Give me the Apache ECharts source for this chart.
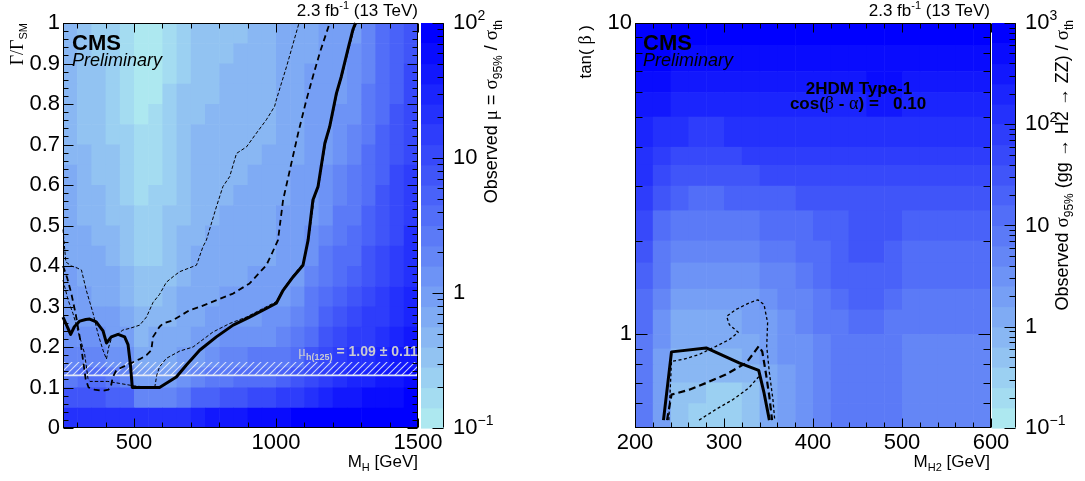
<!DOCTYPE html>
<html>
<head>
<meta charset="utf-8">
<title>Heavy scalar search limits</title>
<script src="https://cdn.jsdelivr.net/npm/echarts@6.0.0/dist/echarts.min.js"></script>
<style>
  html, body { margin: 0; padding: 0; background: #ffffff; }
  #chart { width: 1085px; height: 481px; }
</style>
</head>
<body>
<div id="chart"></div>
<script>
// ===================== Left panel: width scan =====================
// bin edges of the (M_H, Gamma/Gamma_SM) map
const widthMassEdges = [250, 300, 350, 400, 450, 500, 550, 600, 650, 700, 750, 800, 850,
  900, 950, 1000, 1050, 1100, 1150, 1200, 1250, 1300, 1350, 1400, 1450, 1500];
const widthGammaEdges = [0, 0.05, 0.1, 0.15, 0.2, 0.25, 0.3, 0.35, 0.4, 0.45, 0.5,
  0.55, 0.6, 0.65, 0.7, 0.75, 0.8, 0.85, 0.9, 0.95, 1.0];
// log10(observed mu), rows from the top bin (0.95-1.00) down to the bottom bin (0-0.05)
const widthMuLog = [
  [-0.35,-0.55,-0.60,-0.70,-0.85,-0.97,-0.95,-0.75,-0.60,-0.48,-0.45,-0.42,-0.40,-0.38,-0.35,-0.25,-0.20,-0.12,-0.08,-0.03,0.03,0.25,0.50,0.70,0.90],
  [-0.34,-0.53,-0.58,-0.67,-0.82,-0.95,-0.93,-0.73,-0.58,-0.46,-0.43,-0.40,-0.38,-0.36,-0.33,-0.24,-0.19,-0.11,-0.07,-0.02,0.07,0.29,0.53,0.73,0.92],
  [-0.32,-0.50,-0.55,-0.65,-0.79,-0.93,-0.90,-0.71,-0.57,-0.45,-0.42,-0.39,-0.37,-0.35,-0.32,-0.22,-0.18,-0.10,-0.06,-0.01,0.11,0.33,0.56,0.76,0.95],
  [-0.31,-0.48,-0.53,-0.62,-0.76,-0.90,-0.87,-0.69,-0.55,-0.43,-0.40,-0.37,-0.35,-0.33,-0.30,-0.21,-0.16,-0.09,-0.04,0.02,0.16,0.37,0.60,0.79,0.98],
  [-0.29,-0.45,-0.50,-0.59,-0.73,-0.87,-0.84,-0.67,-0.53,-0.41,-0.38,-0.35,-0.33,-0.31,-0.28,-0.20,-0.15,-0.07,-0.03,0.07,0.20,0.41,0.64,0.83,1.01],
  [-0.27,-0.42,-0.47,-0.56,-0.69,-0.84,-0.81,-0.65,-0.51,-0.39,-0.36,-0.33,-0.31,-0.29,-0.26,-0.18,-0.14,-0.06,-0.01,0.12,0.25,0.46,0.68,0.87,1.04],
  [-0.26,-0.39,-0.43,-0.53,-0.65,-0.80,-0.78,-0.62,-0.48,-0.37,-0.34,-0.31,-0.29,-0.27,-0.24,-0.16,-0.12,-0.05,0.01,0.17,0.30,0.51,0.72,0.91,1.08],
  [-0.24,-0.36,-0.40,-0.49,-0.61,-0.77,-0.74,-0.59,-0.46,-0.35,-0.32,-0.29,-0.27,-0.24,-0.22,-0.14,-0.10,-0.03,0.06,0.23,0.36,0.56,0.77,0.95,1.12],
  [-0.21,-0.33,-0.36,-0.45,-0.57,-0.73,-0.70,-0.56,-0.43,-0.33,-0.29,-0.26,-0.24,-0.22,-0.20,-0.13,-0.09,-0.02,0.12,0.29,0.42,0.62,0.82,0.99,1.16],
  [-0.19,-0.29,-0.32,-0.41,-0.52,-0.69,-0.66,-0.53,-0.41,-0.30,-0.26,-0.23,-0.21,-0.19,-0.17,-0.10,-0.07,0.01,0.19,0.36,0.49,0.68,0.87,1.04,1.20],
  [-0.17,-0.24,-0.28,-0.36,-0.46,-0.64,-0.61,-0.50,-0.37,-0.27,-0.23,-0.20,-0.18,-0.16,-0.14,-0.08,-0.05,0.08,0.27,0.43,0.56,0.75,0.93,1.09,1.25],
  [-0.14,-0.20,-0.23,-0.31,-0.40,-0.59,-0.56,-0.46,-0.34,-0.24,-0.20,-0.17,-0.15,-0.13,-0.11,-0.05,-0.02,0.16,0.35,0.51,0.64,0.82,0.99,1.15,1.30],
  [-0.10,-0.14,-0.17,-0.25,-0.34,-0.53,-0.50,-0.41,-0.30,-0.20,-0.16,-0.13,-0.11,-0.09,-0.07,-0.02,0.02,0.26,0.44,0.60,0.73,0.90,1.06,1.21,1.36],
  [-0.07,-0.08,-0.11,-0.18,-0.26,-0.45,-0.42,-0.36,-0.25,-0.16,-0.12,-0.09,-0.07,-0.05,-0.03,0.03,0.12,0.36,0.55,0.71,0.84,1.00,1.14,1.28,1.42],
  [-0.02,-0.01,-0.03,-0.10,-0.17,-0.37,-0.34,-0.31,-0.20,-0.11,-0.07,-0.04,-0.02,0.01,0.05,0.16,0.25,0.48,0.67,0.83,0.96,1.10,1.23,1.36,1.49],
  [0.07,0.12,0.09,-0.01,-0.06,-0.27,-0.25,-0.24,-0.14,-0.06,-0.01,0.05,0.11,0.16,0.20,0.30,0.40,0.63,0.82,0.98,1.10,1.22,1.33,1.45,1.57],
  [0.25,0.30,0.26,0.16,0.09,-0.17,-0.16,-0.15,-0.06,0.04,0.17,0.23,0.29,0.35,0.39,0.49,0.58,0.82,1.00,1.15,1.25,1.35,1.44,1.55,1.65],
  [0.48,0.53,0.50,0.39,0.33,-0.06,-0.06,-0.03,0.11,0.29,0.42,0.48,0.54,0.60,0.63,0.74,0.83,1.07,1.20,1.35,1.45,1.52,1.58,1.67,1.75],
  [0.84,0.88,0.85,0.75,0.68,0.25,0.25,0.33,0.49,0.67,0.79,0.86,0.92,0.97,1.01,1.12,1.20,1.40,1.50,1.60,1.65,1.70,1.75,1.80,1.87],
  [1.30,1.30,1.30,1.30,1.35,1.25,1.30,1.35,1.40,1.50,1.55,1.60,1.65,1.70,1.75,1.80,1.85,1.90,1.95,1.95,1.95,1.97,1.98,1.99,2.00]
];
// exclusion contours, [M_H, Gamma/Gamma_SM]
const widthObserved = [[250,0.274],[277,0.231],[290,0.25],[309,0.264],[330,0.268],[344,0.269],[367,0.262],
  [391,0.24],[403,0.21],[420,0.225],[444,0.231],[467,0.225],[479,0.206],[487,0.159],[494,0.1],[590,0.1],
  [649,0.126],[684,0.155],[731,0.192],[790,0.225],[849,0.254],[907,0.274],[966,0.295],[1001,0.308],
  [1025,0.34],[1060,0.373],[1095,0.402],[1113,0.464],[1130,0.563],[1148,0.596],[1172,0.703],[1189,0.744],
  [1213,0.827],[1230,0.868],[1253,0.934],[1271,0.984],[1280,1.0]];
const widthExpected = [[250,0.40],[265,0.37],[280,0.33],[295,0.28],[310,0.22],[322,0.16],[330,0.12],
  [340,0.10],[360,0.095],[390,0.092],[410,0.095],[418,0.10],[425,0.125],[438,0.143],[473,0.155],
  [520,0.17],[544,0.18],[561,0.192],[567,0.225],[590,0.25],[602,0.258],[637,0.266],[696,0.291],
  [731,0.299],[849,0.332],[907,0.357],[966,0.402],[985,0.43],[1007,0.464],[1025,0.563],[1078,0.728],
  [1107,0.81],[1130,0.868],[1154,0.926],[1189,1.0]];
const widthExpectedUp = [[250,0.49],[255,0.45],[260,0.41],[280,0.40],[300,0.395],[315,0.39],[332,0.34],
  [356,0.283],[373,0.233],[391,0.192],[403,0.17],[411,0.2],[420,0.22],[432,0.229],[444,0.233],
  [461,0.242],[485,0.246],[520,0.254],[544,0.274],[567,0.31],[590,0.33],[614,0.36],[640,0.375],
  [661,0.386],[720,0.402],[743,0.448],[755,0.464],[790,0.546],[813,0.596],[837,0.621],[861,0.678],
  [896,0.694],[931,0.728],[966,0.761],[995,0.794],[1001,0.81],[1037,0.892],[1081,1.0]];
const widthExpectedDown = [[250,0.365],[268,0.316],[285,0.283],[309,0.225],[326,0.184],[338,0.122],
  [345,0.115],[375,0.115],[408,0.115],[450,0.11],[500,0.104],[560,0.1],[573,0.1],[580,0.13],[590,0.151],
  [614,0.172],[661,0.19],[708,0.2],[778,0.237],[837,0.258],[896,0.274],[943,0.291],[1001,0.312],
  [1027,0.345],[1062,0.378],[1097,0.408],[1116,0.47],[1134,0.565],[1151,0.60],[1175,0.705],[1192,0.746],
  [1216,0.83],[1233,0.87],[1256,0.935],[1275,0.985],[1284,1.0]];
// h(125) signal strength band, in Gamma/Gamma_SM
const higgsBand = [0.13, 0.163];
const widthXTicks = [500, 1000, 1500];
const widthYTicks = [0, 0.1, 0.2, 0.3, 0.4, 0.5, 0.6, 0.7, 0.8, 0.9, 1];
const widthZTicks = [0.1, 1, 10, 100];

// ===================== Right panel: 2HDM scan =====================
const h2MassEdges = [200, 220, 240, 260, 280, 300, 320, 340, 360, 380, 400,
  420, 440, 460, 480, 500, 520, 540, 560, 580, 600];
const h2TanbEdges = [0.5, 0.6, 0.7, 0.8, 0.9, 1.0, 1.2, 1.4, 1.7, 2.0, 2.5,
  3.0, 3.5, 4.0, 5.0, 6.0, 7.0, 8.5, 10];
// log10(observed sigma95 / sigma_th), rows from tan(beta) 8.5-10 down to 0.5-0.6
const h2SigmaLog = [
  [2.95,2.90,2.85,2.80,2.80,2.80,2.80,2.80,2.80,2.80,2.80,2.80,2.80,2.85,2.85,2.80,2.80,2.80,2.80,2.80],
  [2.85,2.80,2.70,2.65,2.65,2.70,2.70,2.70,2.70,2.70,2.70,2.70,2.70,2.75,2.75,2.70,2.70,2.70,2.70,2.70],
  [2.70,2.60,2.50,2.45,2.45,2.50,2.50,2.50,2.55,2.55,2.55,2.55,2.55,2.60,2.60,2.55,2.55,2.55,2.55,2.55],
  [2.55,2.40,2.30,2.25,2.25,2.30,2.30,2.30,2.35,2.35,2.35,2.35,2.35,2.40,2.40,2.35,2.35,2.35,2.35,2.35],
  [2.35,2.15,2.00,1.95,1.95,2.00,2.05,2.05,2.05,2.10,2.10,2.10,2.10,2.15,2.15,2.10,2.10,2.10,2.10,2.10],
  [2.15,1.90,1.75,1.70,1.70,1.75,1.80,1.80,1.85,1.85,1.85,1.90,1.90,1.95,1.95,1.90,1.90,1.90,1.90,1.90],
  [2.00,1.70,1.50,1.45,1.45,1.50,1.55,1.60,1.60,1.65,1.65,1.70,1.75,1.75,1.75,1.70,1.70,1.70,1.70,1.70],
  [1.80,1.40,1.20,1.15,1.15,1.20,1.25,1.30,1.35,1.40,1.45,1.50,1.55,1.55,1.55,1.50,1.45,1.45,1.45,1.45],
  [1.60,1.15,0.90,0.85,0.85,0.90,0.95,1.00,1.05,1.15,1.25,1.35,1.45,1.45,1.40,1.30,1.25,1.25,1.25,1.25],
  [1.45,0.95,0.65,0.60,0.60,0.65,0.70,0.80,0.90,1.00,1.15,1.30,1.40,1.40,1.30,1.15,1.10,1.10,1.10,1.10],
  [1.30,0.80,0.45,0.40,0.40,0.45,0.55,0.65,0.75,0.90,1.05,1.25,1.35,1.35,1.20,1.05,1.00,1.00,1.00,1.00],
  [1.15,0.60,0.20,0.20,0.25,0.30,0.35,0.45,0.60,0.75,0.90,1.10,1.25,1.30,1.10,0.95,0.90,0.90,0.90,0.90],
  [1.00,0.50,0.10,0.10,0.10,0.15,0.20,0.30,0.45,0.60,0.80,0.95,1.05,1.10,0.95,0.85,0.82,0.82,0.82,0.82],
  [0.95,0.40,0.05,0.05,0.05,0.10,0.15,0.25,0.40,0.55,0.75,0.85,0.90,0.90,0.85,0.78,0.78,0.78,0.78,0.78],
  [0.90,0.35,-0.05,-0.06,-0.05,-0.03,0.08,0.20,0.40,0.55,0.75,0.80,0.85,0.85,0.80,0.75,0.75,0.75,0.75,0.75],
  [0.90,0.35,-0.15,-0.15,-0.12,-0.10,-0.05,0.10,0.35,0.50,0.75,0.80,0.85,0.85,0.80,0.75,0.75,0.75,0.75,0.75],
  [0.90,0.35,-0.25,-0.40,-0.45,-0.42,-0.30,0.05,0.35,0.50,0.75,0.80,0.85,0.85,0.80,0.75,0.75,0.75,0.75,0.75],
  [0.90,0.35,-0.30,-0.45,-0.50,-0.48,-0.40,0.05,0.35,0.50,0.75,0.80,0.85,0.85,0.80,0.75,0.75,0.75,0.75,0.75]
];
// exclusion contours, [M_H2, tan(beta)]
const h2Observed = [[232,0.53],[241,0.878],[280,0.904],[317,0.809],[339,0.766],[345,0.648],[351,0.53]];
const h2Expected = [[236,0.53],[241,0.64],[261,0.664],[280,0.698],[302,0.743],[325,0.809],[339,0.915],
  [343,0.88],[347,0.752],[351,0.63],[354,0.53]];
const h2ExpectedUp = [[238,0.53],[241,0.819],[254,0.83],[272,0.861],[291,0.915],[306,0.962],[316,1.015],
  [306,1.074],[303,1.142],[313,1.2],[328,1.26],[338,1.29],[345,1.245],[349,1.09],[348,0.915],
  [351,0.752],[355,0.617],[357,0.53]];
const h2ExpectedDown = [[272,0.53],[291,0.574],[310,0.617],[328,0.673],[338,0.725],[341,0.74]];
const h2XTicks = [200, 300, 400, 500, 600];
const h2YTicks = [1, 10];
const h2ZTicks = [0.1, 1, 10, 100, 1000];

// ===================== drawing =====================
const FONT = '"Liberation Sans", Arial, Helvetica, sans-serif';
const SERIF = '"Liberation Serif", "DejaVu Serif", serif';
const N_LEVELS = 20;
const PAL_LOW = [173, 232, 240];
const PAL_HIGH = [0, 0, 255];

function levelColor(level) {
  const t = level / (N_LEVELS - 1);
  const c = PAL_LOW.map((a, i) => Math.round(a + (PAL_HIGH[i] - a) * t));
  return 'rgb(' + c.join(',') + ')';
}
function levelOf(v, lo, hi) {
  if (v < lo) return -1;
  return Math.min(N_LEVELS - 1, Math.floor((v - lo) / (hi - lo) * N_LEVELS));
}
function buildCells(xEdges, yEdges, rowsTopDown) {
  const out = [];
  const nRows = yEdges.length - 1;
  rowsTopDown.forEach((row, r) => {
    const j = nRows - 1 - r;
    row.forEach((v, i) => out.push([xEdges[i], xEdges[i + 1], yEdges[j], yEdges[j + 1], v]));
  });
  return out;
}
function cellRenderer(lo, hi) {
  return function (params, api) {
    const lvl = levelOf(api.value(4), lo, hi);
    if (lvl < 0) return null;
    const a = api.coord([api.value(0), api.value(3)]);
    const b = api.coord([api.value(1), api.value(2)]);
    return {
      type: 'rect',
      shape: { x: a[0], y: a[1], width: b[0] - a[0] + 0.6, height: b[1] - a[1] + 0.6 },
      style: { fill: levelColor(lvl) }
    };
  };
}
function colorbarCells(lo, hi) {
  const out = [];
  for (let i = 0; i < N_LEVELS; i++) {
    out.push([0, 1, Math.pow(10, lo + (hi - lo) * i / N_LEVELS), Math.pow(10, lo + (hi - lo) * (i + 1) / N_LEVELS), i]);
  }
  return out;
}
function colorbarRenderer(params, api) {
  const a = api.coord([api.value(0), api.value(3)]);
  const b = api.coord([api.value(1), api.value(2)]);
  return {
    type: 'rect',
    shape: { x: a[0], y: a[1], width: b[0] - a[0], height: b[1] - a[1] + 0.6 },
    style: { fill: levelColor(api.value(4)) }
  };
}
function minorLinear(from, to, step, majors) {
  const out = [];
  for (let v = from; v <= to + 1e-9; v += step) {
    const r = Math.round(v * 1000) / 1000;
    if (!majors.some(m => Math.abs(m - r) < 1e-6)) out.push(r);
  }
  return out;
}
function minorLog(lo, hi) {
  const out = [];
  for (let d = Math.floor(Math.log10(lo)); d < Math.ceil(Math.log10(hi)); d++) {
    for (let m = 2; m <= 9; m++) {
      const v = m * Math.pow(10, d);
      if (v > lo && v < hi) out.push(v);
    }
  }
  return out;
}
function withLen(values, len) { return values.map(v => [v, len]); }

const hatchCanvas = (function () {
  const c = document.createElement('canvas');
  c.width = 7; c.height = 7;
  const g = c.getContext('2d');
  g.strokeStyle = 'rgba(236,240,250,0.85)';
  g.lineWidth = 1.1;
  g.beginPath();
  g.moveTo(-1, 8); g.lineTo(8, -1);
  g.moveTo(-1, 1); g.lineTo(1, -1);
  g.moveTo(6, 8); g.lineTo(8, 6);
  g.stroke();
  return c;
})();

function labelAxis(grid, position, type, min, max, label) {
  const ax = {
    type: type, gridIndex: grid, position: position, min: min, max: max, z: 10,
    axisLine: { show: false, onZero: false },
    axisTick: { show: false },
    splitLine: { show: false },
    minorTick: { show: false },
    minorSplitLine: { show: false },
    axisLabel: { show: false }
  };
  if (type === 'log') ax.logBase = 10;
  if (label) {
    ax.axisLabel = Object.assign({ show: true, color: '#000', fontFamily: FONT, fontSize: 22 }, label);
  }
  return ax;
}
const expRich = {
  m: { fontFamily: FONT, fontSize: 22, color: '#000', verticalAlign: 'middle' },
  p: { fontFamily: FONT, fontSize: 14, color: '#000', verticalAlign: 'middle', padding: [0, 0, 13, 0] }
};
function powerLabel(v) {
  const e = Math.round(Math.log10(v));
  if (e === 0) return '{m|1}';
  if (e === 1) return '{m|10}';
  return '{m|10}{p|' + (e < 0 ? '\u2212' + (-e) : e) + '}';
}

function rich(size) {
  const sub = Math.round(size * 0.66);
  return {
    m: { fontFamily: FONT, fontSize: size, fill: '#000', verticalAlign: 'middle' },
    g: { fontFamily: SERIF, fontSize: size + 1, fill: '#000', verticalAlign: 'middle' },
    s: { fontFamily: FONT, fontSize: sub, fill: '#000', verticalAlign: 'middle', padding: [Math.round(size * 0.7), 0, 0, 0] },
    p: { fontFamily: FONT, fontSize: sub, fill: '#000', verticalAlign: 'middle', padding: [0, 0, Math.round(size * 0.6), 0] }
  };
}
function txt(x, y, text, size, opt) {
  opt = opt || {};
  return {
    type: 'text', x: x, y: y, rotation: opt.rotation || 0, z: 100, silent: true,
    style: {
      text: text, fill: opt.fill || '#000', fontFamily: FONT, fontSize: size,
      fontWeight: opt.weight || 'normal', fontStyle: opt.italic ? 'italic' : 'normal',
      align: opt.align || 'left', verticalAlign: 'middle', rich: opt.rich
    }
  };
}

const gridL = { left: 63, top: 23, width: 355, height: 405 };
const gridLCB = { left: 421, top: 23, width: 23, height: 405 };
const gridR = { left: 635, top: 23, width: 356, height: 405 };
const gridRCB = { left: 992, top: 23, width: 24, height: 405 };

const xAxes = [
  labelAxis(0, 'bottom', 'value', 250, 1500, { customValues: widthXTicks, margin: 4, formatter: v => String(v) }),
  labelAxis(1, 'bottom', 'value', 0, 1),
  labelAxis(2, 'bottom', 'value', 200, 600, { customValues: h2XTicks, margin: 4, formatter: v => String(v) }),
  labelAxis(3, 'bottom', 'value', 0, 1)
];
const yAxes = [
  labelAxis(0, 'left', 'value', 0, 1, { customValues: widthYTicks, margin: 3, formatter: v => String(Math.round(v * 10) / 10) }),
  labelAxis(1, 'right', 'log', 0.1, 100, { customValues: widthZTicks, margin: 9, formatter: powerLabel, rich: expRich }),
  labelAxis(2, 'left', 'log', 0.5, 10, { customValues: h2YTicks, margin: 3, formatter: v => String(Math.round(v)) }),
  labelAxis(3, 'right', 'log', 0.1, 1000, { customValues: h2ZTicks, margin: 9, formatter: powerLabel, rich: expRich })
];

function contour(name, data, xi, yi, width, dash) {
  return {
    type: 'line', name: name, data: data, xAxisIndex: xi, yAxisIndex: yi,
    showSymbol: false, symbol: 'none', silent: true, z: 6, clip: true,
    lineStyle: { color: '#000', width: width, type: dash || 'solid', cap: 'butt', join: 'round' }
  };
}

const series = [
  {
    type: 'custom', name: 'mu map', xAxisIndex: 0, yAxisIndex: 0, z: 1, silent: true, clip: true,
    encode: { x: [0, 1], y: [2, 3] },
    data: buildCells(widthMassEdges, widthGammaEdges, widthMuLog),
    renderItem: cellRenderer(-1, 2)
  },
  {
    type: 'custom', name: 'h125 band', xAxisIndex: 0, yAxisIndex: 0, z: 4, silent: true, clip: true,
    encode: { x: [0, 1], y: [2, 3] },
    data: [[250, 1500, higgsBand[0], higgsBand[1]]],
    renderItem: function (params, api) {
      const a = api.coord([api.value(0), api.value(3)]);
      const b = api.coord([api.value(1), api.value(2)]);
      return {
        type: 'group', children: [
          { type: 'rect', shape: { x: a[0], y: a[1], width: b[0] - a[0], height: b[1] - a[1] },
            style: { fill: { image: hatchCanvas, repeat: 'repeat' } } },
          { type: 'line', shape: { x1: a[0], y1: b[1], x2: b[0], y2: b[1] },
            style: { stroke: 'rgba(232,236,246,0.95)', lineWidth: 1.6 } }
        ]
      };
    }
  },
  contour('obs', widthObserved, 0, 0, 3),
  contour('exp', widthExpected, 0, 0, 1.8, [6, 4]),
  contour('exp up', widthExpectedUp, 0, 0, 1, [3.5, 2]),
  contour('exp down', widthExpectedDown, 0, 0, 1, [3.5, 2]),
  {
    type: 'custom', name: 'mu scale', xAxisIndex: 1, yAxisIndex: 1, z: 1, silent: true,
    encode: { x: [0, 1], y: [2, 3] },
    data: colorbarCells(-1, 2), renderItem: colorbarRenderer
  },
  {
    type: 'custom', name: 'sigma map', xAxisIndex: 2, yAxisIndex: 2, z: 1, silent: true, clip: true,
    encode: { x: [0, 1], y: [2, 3] },
    data: buildCells(h2MassEdges, h2TanbEdges, h2SigmaLog),
    renderItem: cellRenderer(-1, 3)
  },
  contour('obs', h2Observed, 2, 2, 3),
  contour('exp', h2Expected, 2, 2, 2.2, [7, 4]),
  contour('exp up', h2ExpectedUp, 2, 2, 1.3, [3, 2.5]),
  contour('exp down', h2ExpectedDown, 2, 2, 1.3, [3, 2.5]),
  {
    type: 'custom', name: 'sigma scale', xAxisIndex: 3, yAxisIndex: 3, z: 1, silent: true,
    encode: { x: [0, 1], y: [2, 3] },
    data: colorbarCells(-1, 3), renderItem: colorbarRenderer
  }
];

const r17 = rich(17), r18 = rich(18);
const lumi = '{m|2.3 fb}{p|-1}{m| (13 TeV)}';
const texts = [
  txt(72, 44, 'CMS', 22, { weight: 'bold' }),
  txt(72, 60.5, 'Preliminary', 18, { italic: true }),
  txt(643, 44, 'CMS', 22, { weight: 'bold' }),
  txt(643, 60.5, 'Preliminary', 18, { italic: true }),
  txt(418, 11, lumi, 17, { align: 'right', rich: r17 }),
  txt(990, 11, lumi, 17, { align: 'right', rich: r17 }),
  txt(418, 462, '{m|M}{s|H}{m| [GeV]}', 17, { align: 'right', rich: r17 }),
  txt(990, 462, '{m|M}{s|H2}{m| [GeV]}', 17, { align: 'right', rich: r17 }),
  txt(18, 23, '{g|\u0393/\u0393}{s|SM}', 17, { align: 'right', rotation: Math.PI / 2, rich: r17 }),
  txt(586, 25, '{m|tan( }{g|\u03b2}{m| )}', 17, { align: 'right', rotation: Math.PI / 2, rich: r17 }),
  txt(492, 20, '{m|Observed }{g|\u03bc}{m| = }{g|\u03c3}{s|95%}{m| / }{g|\u03c3}{s|th}', 18,
    { align: 'right', rotation: Math.PI / 2, rich: r18 }),
  txt(1063, 20, '{m|Observed }{g|\u03c3}{s|95%}{m| (gg \u2192 H2 \u2192 ZZ) / }{g|\u03c3}{s|th}', 18,
    { align: 'right', rotation: Math.PI / 2, rich: r18 }),
  txt(859, 89, '2HDM Type-1', 17, { align: 'center', weight: 'bold' }),
  txt(858, 104, '{b|cos(}{gb|\u03b2}{b| - }{gb|\u03b1}{b|) =   0.10}', 17, {
    align: 'center',
    rich: {
      b: { fontFamily: FONT, fontSize: 17, fontWeight: 'bold', fill: '#000', verticalAlign: 'middle' },
      gb: { fontFamily: SERIF, fontSize: 18, fill: '#000', verticalAlign: 'middle' }
    }
  }),
  txt(298, 352, '{g|\u03bc}{s|h(125)}{m| = 1.09 \u00b1 0.11}', 14, {
    rich: {
      g: { fontFamily: SERIF, fontSize: 15, fill: '#c9cad2', verticalAlign: 'middle' },
      s: { fontFamily: FONT, fontSize: 9, fontWeight: 'bold', fill: '#c9cad2', verticalAlign: 'middle', padding: [11, 0, 0, 0] },
      m: { fontFamily: FONT, fontSize: 14, fontWeight: 'bold', fill: '#c9cad2', verticalAlign: 'middle' }
    }
  })
];

const chart = echarts.init(document.getElementById('chart'), null, { renderer: 'canvas' });
chart.setOption({
  animation: false,
  backgroundColor: '#ffffff',
  textStyle: { fontFamily: FONT },
  grid: [
    Object.assign({ outerBoundsMode: 'none', containLabel: false }, gridL),
    Object.assign({ outerBoundsMode: 'none', containLabel: false }, gridLCB),
    Object.assign({ outerBoundsMode: 'none', containLabel: false }, gridR),
    Object.assign({ outerBoundsMode: 'none', containLabel: false }, gridRCB)
  ],
  xAxis: xAxes,
  yAxis: yAxes,
  series: series
});

// frames with inward ticks, placed through each grid's scales
function frameLines(gi, spec) {
  const toPx = (x, y) => chart.convertToPixel({ gridIndex: gi }, [x, y]);
  const bl = toPx(spec.x[0], spec.y[0]);
  const tr = toPx(spec.x[1], spec.y[1]);
  const left = Math.round(bl[0]) + 0.5, right = Math.round(tr[0]) - 0.5;
  const top = Math.round(tr[1]) + 0.5, bottom = Math.round(bl[1]) - 0.5;
  const out = [];
  const seg = (x1, y1, x2, y2) => out.push({
    type: 'line', z: 50, silent: true,
    shape: { x1: x1, y1: y1, x2: x2, y2: y2 },
    style: { stroke: '#000', lineWidth: 1 }
  });
  if (spec.box) {
    seg(left - 0.5, top, right + 0.5, top); seg(right, top, right, bottom);
    seg(right + 0.5, bottom, left - 0.5, bottom); seg(left, bottom, left, top);
  } else {
    seg(right, top, right, bottom);
  }
  (spec.xTicks || []).forEach(t => {
    const x = Math.round(toPx(t[0], spec.y[0])[0]) + 0.5;
    seg(x, bottom, x, bottom - t[1]);
    seg(x, top, x, top + t[1]);
  });
  (spec.yTicks || []).forEach(t => {
    const y = Math.round(toPx(spec.x[0], t[0])[1]) + 0.5;
    if (spec.box) seg(left, y, left + t[1], y);
    seg(right, y, right - t[1], y);
  });
  return out;
}

const frames = [].concat(
  frameLines(0, {
    box: true, x: [250, 1500], y: [0, 1],
    xTicks: withLen(widthXTicks, 9).concat(withLen(minorLinear(300, 1400, 100, widthXTicks), 5)),
    yTicks: withLen(widthYTicks, 10).concat(withLen(minorLinear(0.02, 0.98, 0.02, widthYTicks), 5))
  }),
  frameLines(1, {
    box: false, x: [0, 1], y: [0.1, 100],
    yTicks: withLen(widthZTicks, 11).concat(withLen(minorLog(0.1, 100), 6))
  }),
  frameLines(2, {
    box: true, x: [200, 600], y: [0.5, 10],
    xTicks: withLen(h2XTicks, 9).concat(withLen(minorLinear(220, 580, 20, h2XTicks), 5)),
    yTicks: withLen(h2YTicks, 12).concat(withLen(minorLog(0.5, 10), 7))
  }),
  frameLines(3, {
    box: false, x: [0, 1], y: [0.1, 1000],
    yTicks: withLen(h2ZTicks, 11).concat(withLen(minorLog(0.1, 1000), 6))
  })
);

chart.setOption({ graphic: { elements: texts.concat(frames) } });
</script>
</body>
</html>
